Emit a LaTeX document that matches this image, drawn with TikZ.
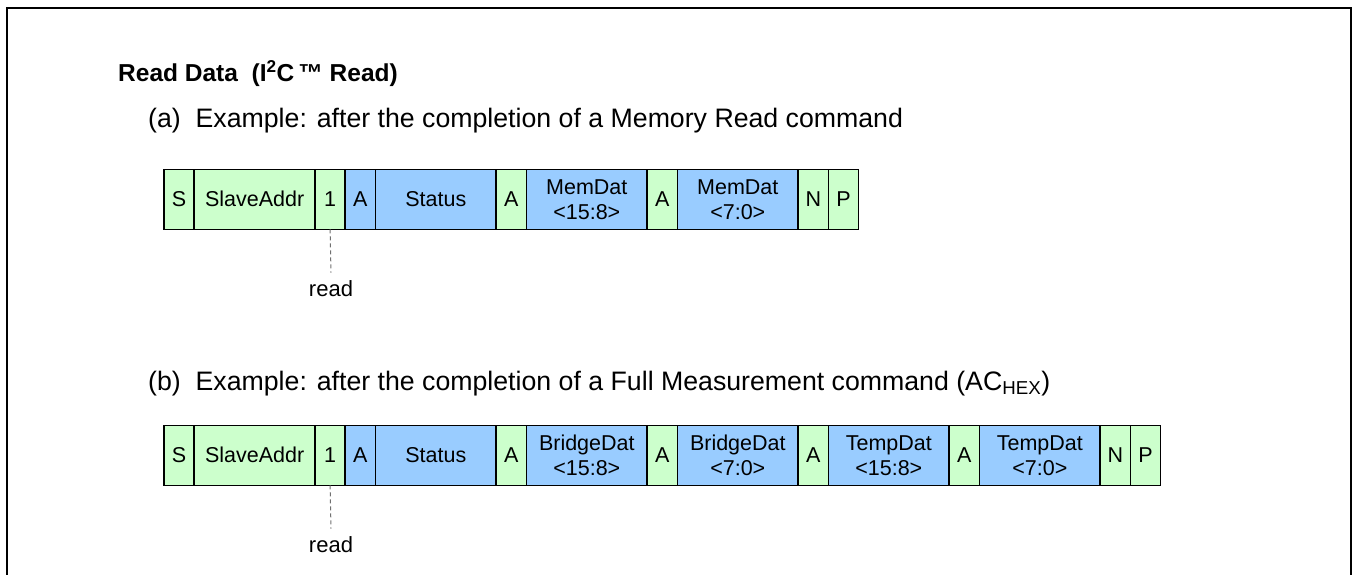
\documentclass[tikz,border=0pt]{standalone}
\usepackage{fontspec}
\setmainfont{Liberation Sans}
\definecolor{fgreen}{HTML}{CCFFCC}
\definecolor{fblue}{HTML}{99CCFF}
\definecolor{dashgray}{HTML}{707070}
\begin{document}
\begin{tikzpicture}[x=1pt,y=-1pt,
  fld/.style={draw=black, line width=1.5pt, minimum height=60pt, inner sep=0pt, outer sep=0pt,
    font=\fontsize{21.5}{25}\selectfont, align=center, anchor=north west},
  grn/.style={fld, fill=fgreen},
  blu/.style={fld, fill=fblue},
  sm/.style={minimum width=30.2pt},
  lg/.style={minimum width=120.8pt},
  sub/.style={anchor=base west, inner sep=0pt, font=\fontsize{26.7}{30}\selectfont},
  readlbl/.style={inner xsep=0pt, inner ysep=8pt, font=\fontsize{22}{26}\selectfont},
  rdash/.style={draw=dashgray, dashed, line width=1pt, dash pattern=on 4pt off 3pt},
]
\useasboundingbox (0,0) rectangle (1353,575);
\draw[line width=2pt] (7,575) -- (7,8) -- (1351,8) -- (1351,575);

\node[sub, font=\bfseries\fontsize{24.5}{28}\selectfont] (title) at (118,82) {Read Data\ \ (I\textsuperscript{2}C\,™ Read)};
\node[sub] (suba) at (148,127.5) {(a)\ \ Example: after the completion of a Memory Read command};
\node[sub] (subb) at (148,390.5) {(b)\ \ Example: after the completion of a Full Measurement command (AC\textsubscript{HEX})};

% row (a)
\node[grn, sm] (aS) at (164,169.3) {S};
\node[grn, lg] (aAddr) at (194.2,169.3) {SlaveAddr};
\node[grn, sm] (a1) at (315,169.3) {1};
\node[blu, sm] (aA1) at (345.2,169.3) {A};
\node[blu, lg] (aStat) at (375.4,169.3) {Status};
\node[grn, sm] (aA2) at (496.2,169.3) {A};
\node[blu, lg] (aM1) at (526.4,169.3) {MemDat\\<15:8>};
\node[grn, sm] (aA3) at (647.2,169.3) {A};
\node[blu, lg] (aM2) at (677.4,169.3) {MemDat\\<7:0>};
\node[grn, sm] (aN) at (798.2,169.3) {N};
\node[grn, sm] (aP) at (828.4,169.3) {P};
\node[readlbl] (aread) at (331,289) {read};
\draw[rdash] (a1.south) -- (aread.north);

% row (b)
\node[grn, sm] (bS) at (164,425.3) {S};
\node[grn, lg] (bAddr) at (194.2,425.3) {SlaveAddr};
\node[grn, sm] (b1) at (315,425.3) {1};
\node[blu, sm] (bA1) at (345.2,425.3) {A};
\node[blu, lg] (bStat) at (375.4,425.3) {Status};
\node[grn, sm] (bA2) at (496.2,425.3) {A};
\node[blu, lg] (bB1) at (526.4,425.3) {BridgeDat\\<15:8>};
\node[grn, sm] (bA3) at (647.2,425.3) {A};
\node[blu, lg] (bB2) at (677.4,425.3) {BridgeDat\\<7:0>};
\node[grn, sm] (bA4) at (798.2,425.3) {A};
\node[blu, lg] (bT1) at (828.4,425.3) {TempDat\\<15:8>};
\node[grn, sm] (bA5) at (949.2,425.3) {A};
\node[blu, lg] (bT2) at (979.4,425.3) {TempDat\\<7:0>};
\node[grn, sm] (bN) at (1100.2,425.3) {N};
\node[grn, sm] (bP) at (1130.4,425.3) {P};
\node[readlbl] (bread) at (331,545) {read};
\draw[rdash] (b1.south) -- (bread.north);
\end{tikzpicture}
\end{document}
